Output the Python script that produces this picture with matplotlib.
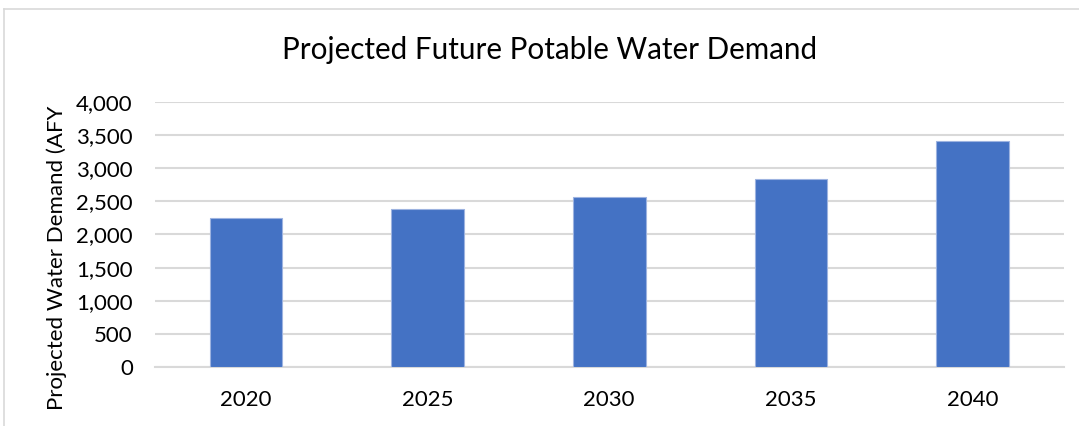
import matplotlib
matplotlib.use("Agg")
import matplotlib.pyplot as plt
from matplotlib.lines import Line2D
from matplotlib.ticker import FuncFormatter

# data
years = ["2020", "2025", "2030", "2035", "2040"]
demand_afy = [2245, 2385, 2565, 2830, 3405]

plt.rcParams['font.family'] = ['Lato', 'DejaVu Sans']

W, H = 1079, 426
fig = plt.figure(figsize=(W / 100, H / 100), dpi=100)
ax = fig.add_axes([155 / W, 1 - 367.3 / H, (1063.5 - 155) / W, (367.3 - 101.7) / H])

x = range(len(years))
ax.bar(x, demand_afy, width=0.40, color='#4472C4', edgecolor='#9db3e0',
       linewidth=0.8, zorder=3)

ax.set_xlim(-0.5, len(years) - 0.5)
ax.set_ylim(0, 4000)
ax.set_yticks(range(0, 4001, 500))
ax.yaxis.set_major_formatter(FuncFormatter(lambda v, p: f"{int(v):,}"))
ax.set_xticks(list(x))
ax.set_xticklabels(years)

ax.grid(axis='y', color='#d9d9d9', linewidth=1.5, zorder=0)
for s in ['top', 'right', 'left']:
    ax.spines[s].set_visible(False)
ax.spines['bottom'].set_color('#d9d9d9')
ax.spines['bottom'].set_linewidth(1.5)
ax.tick_params(axis='both', length=0, labelsize=16, colors='black')
ax.tick_params(axis='y', pad=16)
ax.tick_params(axis='x', pad=16)

fig.text(550 / W, 1 - 50 / H, "Projected Future Potable Water Demand",
         ha='center', va='center', fontsize=21.3)
fig.text(57 / W, 1 - 258 / H, "Projected Water Demand (AFY",
         ha='center', va='center', rotation=90, fontsize=16)

# outer chart frame (left and top edges visible)
fig.add_artist(Line2D([3.5 / W, 3.5 / W], [0, 1 - 9 / H], transform=fig.transFigure,
                      color='#d9d9d9', linewidth=1.2))
fig.add_artist(Line2D([3.5 / W, 1], [1 - 9 / H, 1 - 9 / H], transform=fig.transFigure,
                      color='#d9d9d9', linewidth=1.2))

fig.savefig("out.png", dpi=100)
